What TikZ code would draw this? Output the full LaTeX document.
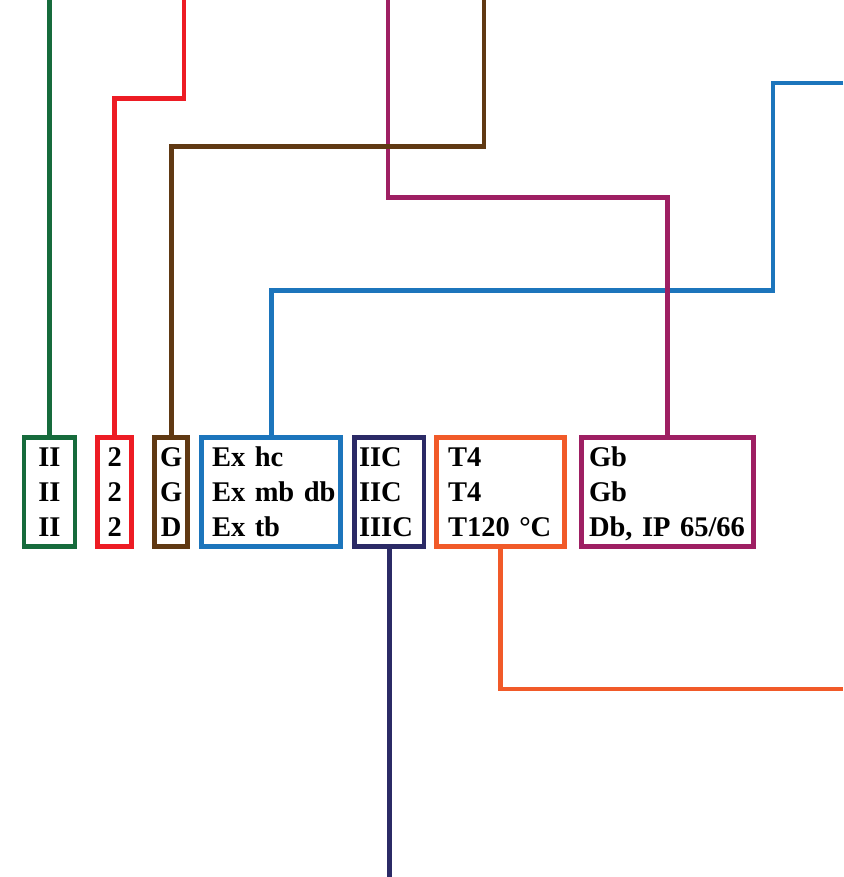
\documentclass[tikz,border=0pt]{standalone}
\usepackage{fontspec}
\setmainfont{Liberation Serif}
\definecolor{cGreen}{RGB}{22,107,60}
\definecolor{cRed}{RGB}{237,28,36}
\definecolor{cBrown}{RGB}{96,57,19}
\definecolor{cBlue}{RGB}{28,117,188}
\definecolor{cMagenta}{RGB}{158,31,99}
\definecolor{cNavy}{RGB}{43,42,102}
\definecolor{cOrange}{RGB}{241,90,41}
\begin{document}
\begin{tikzpicture}[
        % 以像素为单位，y 轴向下
        x=1pt, y=-1pt,
        line width=4.8pt, % 所有线条与方框的粗细
        % 方框样式：#1 为颜色
        box/.style={draw=#1, rectangle, outer sep=0pt, inner ysep=0pt,
            minimum height=109.3pt},
        % 左对齐方框
        lbox/.style={box=#1, anchor=west, align=left},
        wire/.style={draw=#1},
        font=\bfseries\fontsize{28.5}{35}\selectfont
    ]
    % 方框的垂直中心
    \def\cy{492.2}

    \useasboundingbox (0,0) rectangle (843,877);

    % --- 绘制方框 ---
    \node[box=cGreen, minimum width=51pt, inner xsep=1pt, align=center]
        (groupbox) at (49.5,\cy) {II\\II\\II};
    \node[box=cRed, minimum width=34.3pt, inner xsep=1pt, align=center]
        (catbox) at (114.65,\cy) {2\\2\\2};
    \node[box=cBrown, minimum width=32.7pt, inner xsep=1pt, align=center]
        (atmbox) at (171.15,\cy) {G\\G\\D};
    \node[lbox=cBlue, minimum width=139.3pt, inner xsep=10.5pt, text width=118.3pt]
        (protbox) at (201.5,\cy) {Ex~hc\\Ex~mb~db\\Ex~tb};
    \node[lbox=cNavy, minimum width=69.2pt, inner xsep=4.2pt, text width=60.8pt]
        (gasbox) at (354.8,\cy) {IIC\\IIC\\IIIC};
    \node[lbox=cOrange, minimum width=127.7pt, inner xsep=11.5pt, text width=104.7pt]
        (tempbox) at (436.5,\cy) {T4\\T4\\T120~°C};
    % 逗号的下伸不计入高度，使各行与其他方框对齐
    \node[lbox=cMagenta, minimum width=172.3pt, inner xsep=7.8pt, text width=156.7pt]
        (eplbox) at (581.2,\cy) {Gb\\Gb\\Db\smash{,}~IP~65/66};

    % --- 定义线条的端点与拐点 ---
    \coordinate (group in) at (groupbox.north |- 0,0);
    \coordinate (cat in) at (184,0);
    \coordinate (cat knee) at (184,98.3);
    \coordinate (atm in) at (484,0);
    \coordinate (atm knee) at (484,146.5);
    \coordinate (epl in) at (388,0);
    \coordinate (epl knee) at (388,197.5);
    \coordinate (prot in) at (843,83);
    \coordinate (prot knee) at (773,290.8);
    \coordinate (gas out) at (gasbox.south |- 0,877);
    \coordinate (temp out) at (843,689);

    % --- 绘制线条（先画被压住的） ---
    \draw[wire=cBlue] (prot in) -| (prot knee) -| (protbox.north);
    \draw[wire=cMagenta] (epl in) -- (epl knee) -| (eplbox.north);
    \draw[wire=cBrown] (atm in) -- (atm knee) -| (atmbox.north);
    \draw[wire=cRed] (cat in) -- (cat knee) -| (catbox.north);
    \draw[wire=cGreen] (group in) -- (groupbox.north);

    % --- 下方的线条 ---
    \draw[wire=cNavy] (gasbox.south) -- (gas out);
    \draw[wire=cOrange] (tempbox.south) |- (temp out);

\end{tikzpicture}
\end{document}
